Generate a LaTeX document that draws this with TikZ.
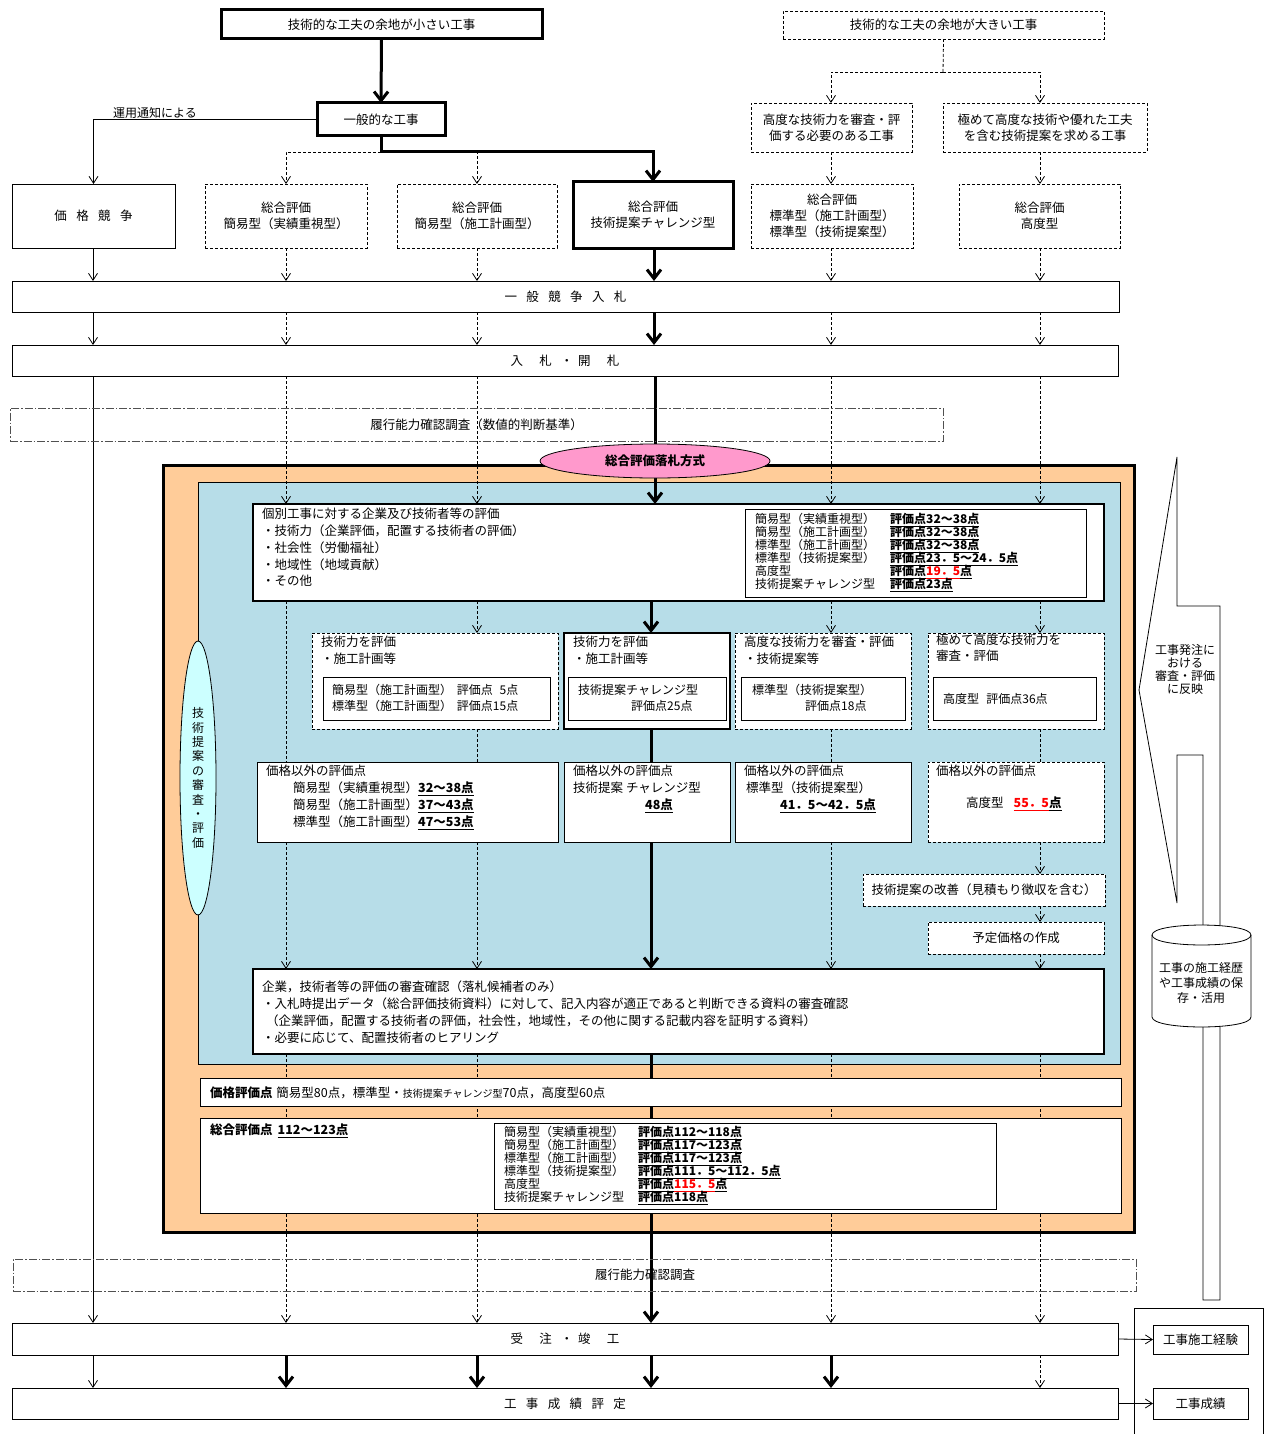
\documentclass[tikz,border=0pt]{standalone}
\usepackage{fontspec}
\setmainfont{Noto Sans CJK JP}
\usetikzlibrary{arrows.meta,calc,shapes.geometric}
\definecolor{peach}{HTML}{FFCC99}
\definecolor{lblue}{HTML}{B7DDE8}
\definecolor{pinkc}{HTML}{FF99CC}
\definecolor{cyanc}{HTML}{CCFFFF}
\definecolor{lgray}{HTML}{505050}
\pgfdeclarelayer{bg}\pgfdeclarelayer{ln}\pgfsetlayers{bg,ln,main}
\newcommand\fs[2]{\fontsize{#1}{#2}\selectfont\lineskiplimit=-50pt\lineskip=0pt}
\newcommand\ulb[1]{\underline{\textbf{#1}\vphantom{点}}}
\newcommand\gp{\hspace{0.75em}}
\newcommand\BX[7][]{\node[#1, minimum width={(#5)-(#3)}, minimum height={(#6)-(#4)}] (#2) at ({((#3)+(#5))/2},{((#4)+(#6))/2}) {#7};}
\begin{document}
\begin{tikzpicture}[x=1pt,y=-1pt,
 every node/.style={font=\fs{12.5}{16}},
 bx/.style={draw, line width=0.8pt, fill=white, inner sep=0pt, outer sep=0pt, align=center},
 dbx/.style={bx, dash pattern=on 3pt off 2pt},
 kbx/.style={bx, line width=3pt},
 mbx/.style={bx, line width=2pt},
 ddbx/.style={draw=lgray, line width=0.8pt, inner sep=0pt, outer sep=0pt, dash pattern=on 8pt off 2pt on 1.5pt off 2pt},
 txt/.style={inner sep=0pt, anchor=north west, align=left},
 ln/.style={line width=0.8pt},
 dln/.style={line width=0.8pt, dash pattern=on 3pt off 2pt},
 kln/.style={line width=3pt},
 tarr/.style={ln, -{Straight Barb[length=7pt,width=9pt]}},
 darr/.style={dln, -{Straight Barb[length=7pt,width=9pt]}},
 karr/.style={kln, -{Straight Barb[length=9pt,width=14pt]}},
]
\useasboundingbox (0,0) rectangle (1265,1434);
\begin{pgfonlayer}{bg}
\fill[white] (0,0) rectangle (1265,1434);
\BX[draw, line width=3pt, fill=peach, inner sep=0pt, outer sep=0pt]{ob}{163}{465}{1134}{1232}{}
\BX[draw, line width=0.8pt, fill=lblue, inner sep=0pt, outer sep=0pt]{bb}{198}{482}{1120}{1064}{}
\end{pgfonlayer}

% columns
\coordinate (X1) at (93,0);
\coordinate (X2) at (286,0);
\coordinate (X3) at (477,0);
\coordinate (X4) at (654,0);
\coordinate (XK) at (651,0);
\coordinate (X5) at (831,0);
\coordinate (X6) at (1040,0);
\coordinate (j1) at (381,152);
\coordinate (j2) at (943,72);

% top
\BX[kbx]{n1}{221}{10}{542}{39}{技術的な工夫の余地が小さい工事}
\BX[dbx]{n2}{783}{11}{1104}{39}{技術的な工夫の余地が大きい工事}
\BX[kbx]{n3}{317}{103}{445}{136}{一般的な工事}
\BX[dbx]{n4}{751}{103}{912}{152}{高度な技術力を審査・評\\価する必要のある工事}
\BX[dbx]{n5}{943}{103}{1147}{152}{極めて高度な技術や優れた工夫\\を含む技術提案を求める工事}
\node[inner sep=0pt, font=\fs{12}{14}] (lab1) at (155,113) {運用通知による};

\BX[bx]{k1}{12}{184}{175}{248}{価\gp 格\gp 競\gp 争}
\BX[dbx]{k2}{205}{184}{367}{248}{総合評価\\簡易型（実績重視型）}
\BX[dbx]{k3}{397}{184}{557}{248}{総合評価\\簡易型（施工計画型）}
\BX[kbx]{k4}{573}{182}{733}{248}{総合評価\\技術提案チャレンジ型}
\BX[dbx]{k5}{751}{184}{913}{248}{総合評価\\標準型（施工計画型）\\標準型（技術提案型）}
\BX[dbx]{k6}{959}{184}{1120}{248}{総合評価\\高度型}

\BX[bx]{b1}{12}{281}{1119}{312}{一\gp 般\gp 競\gp 争\gp 入\gp 札}
\BX[bx]{b2}{12}{345}{1118}{376}{入\hspace{1.3em}札\hspace{0.7em}・\hspace{0.4em}開\hspace{1.3em}札}
\BX[ddbx]{b3}{10}{408}{943}{441}{履行能力確認調査（数値的判断基準）}

% ellipse
\node[ellipse, draw, ln, fill=pinkc, minimum width=230pt, minimum height=34pt, inner sep=0pt, font=\fs{12.5}{15}\bfseries] (e1) at (655,461) {総合評価落札方式};

% individual evaluation
\BX[mbx]{i1}{253}{504}{1104}{601}{}
\node[txt, font=\fs{12.5}{16.75}] (i1t) at (262,508) {個別工事に対する企業及び技術者等の評価\\・技術力（企業評価，配置する技術者の評価）\\・社会性（労働福祉）\\・地域性（地域貢献）\\・その他};
\BX[bx]{i2}{745}{509}{1086}{597}{}
\node[txt, font=\fs{12}{13}] (i2a) at (755,513) {簡易型（実績重視型）\\簡易型（施工計画型）\\標準型（施工計画型）\\標準型（技術提案型）\\高度型\\技術提案チャレンジ型};
\node[txt, font=\fs{12}{13}] (i2b) at (890,513) {\ulb{評価点32～38点}\\\ulb{評価点32～38点}\\\ulb{評価点32～38点}\\\ulb{評価点23．5～24．5点}\\\ulb{評価点}\textcolor{red}{\ulb{19．5}}\ulb{点}\\\ulb{評価点23点}};

% row 2
\BX[dbx]{t1}{312}{633}{558}{729}{}
\node[txt, font=\fs{12.5}{17}] (t1t) at (321,636) {技術力を評価\\・施工計画等};
\BX[bx]{t1i}{323}{677}{550}{720}{}
\node[txt, font=\fs{12}{16}] (t1it) at (332,684) {簡易型（施工計画型）\hspace{0.4em}評価点\phantom{1}5点\\標準型（施工計画型）\hspace{0.4em}評価点15点};

\BX[mbx]{t2}{564}{633}{730}{729}{}
\node[txt, font=\fs{12.5}{17}] (t2t) at (573,636) {技術力を評価\\・施工計画等};
\BX[bx]{t2i}{568}{677}{726}{720}{}
\node[txt, font=\fs{12}{16}] (t2it) at (578,684) {技術提案チャレンジ型\\\hspace*{53pt}評価点25点};

\BX[dbx]{t3}{735}{633}{911}{729}{}
\node[txt, font=\fs{12.5}{17}] (t3t) at (744,636) {高度な技術力を審査・評価\\・技術提案等};
\BX[bx]{t3i}{741}{677}{905}{720}{}
\node[txt, font=\fs{12}{16}] (t3it) at (752,684) {標準型（技術提案型）\\\hspace*{53pt}評価点18点};

\BX[dbx]{t4}{928}{633}{1104}{729}{}
\node[txt, font=\fs{12.5}{16}] (t4t) at (936,634) {極めて高度な技術力を\\審査・評価};
\BX[bx]{t4i}{933}{677}{1096}{720}{}
\node[inner sep=0pt, anchor=west, font=\fs{12}{16}] (t4it) at (943,699) {高度型\hspace{0.6em}評価点36点};

% row 3
\BX[bx]{p1}{257}{762}{558}{842}{}
\node[txt, font=\fs{12.5}{17}] (p1t) at (266,765) {価格以外の評価点\\\hspace*{27pt}簡易型（実績重視型）\ulb{32～38点}\\\hspace*{27pt}簡易型（施工計画型）\ulb{37～43点}\\\hspace*{27pt}標準型（施工計画型）\ulb{47～53点}};
\BX[bx]{p2}{564}{762}{730}{842}{}
\node[txt, font=\fs{12.5}{17}] (p2t) at (573,765) {価格以外の評価点\\技術提案 チャレンジ型\\\hspace*{72pt}\ulb{48点}};
\BX[bx]{p3}{735}{762}{911}{842}{}
\node[txt, font=\fs{12.5}{17}] (p3t) at (744,765) {価格以外の評価点\\\hspace*{2pt}標準型（技術提案型）\\\hspace*{36pt}\ulb{41．5～42．5点}};
\BX[dbx]{p4}{928}{762}{1104}{842}{}
\node[txt, font=\fs{12.5}{17}] (p4t) at (936,765) {価格以外の評価点};
\node[inner sep=0pt, anchor=west] (p4v) at (966,804) {高度型\hspace{0.8em}\textcolor{red}{\ulb{55．5}}\ulb{点}};

\BX[dbx]{q1}{863}{874}{1105}{906}{技術提案の改善（見積もり徴収を含む）}
\BX[dbx]{q2}{928}{922}{1104}{954}{予定価格の作成}

\BX[mbx]{r1}{253}{969}{1104}{1054}{}
\node[txt, font=\fs{12.5}{17}] (r1t) at (262,981) {企業，技術者等の評価の審査確認（落札候補者のみ）\\・入札時提出データ（総合評価技術資料）に対して、記入内容が適正であると判断できる資料の審査確認\\\hspace*{4pt}（企業評価，配置する技術者の評価，社会性，地域性，その他に関する記載内容を証明する資料）\\・必要に応じて、配置技術者のヒアリング};

\node[ellipse, draw, ln, fill=cyanc, minimum width=36pt, minimum height=274pt, inner sep=0pt, align=center, font=\fs{12}{14.4}] (v1) at (198,778) {技\\術\\提\\案\\の\\審\\査\\・\\評\\価};

% price / total
\BX[bx]{s1}{200}{1078}{1121}{1106}{}
\node[inner sep=0pt, anchor=west] (s1t) at (210,1093) {\textbf{価格評価点}\hspace{0.3em}簡易型80点，標準型・{\fs{10}{12}技術提案チャレンジ型}70点，高度型60点};
\BX[bx]{s2}{200}{1118}{1121}{1213}{}
\node[txt] (s2t) at (210,1124) {\textbf{総合評価点}\hspace{0.4em}\ulb{112～123点}};
\BX[bx]{s2i}{494}{1123}{996}{1209}{}
\node[txt, font=\fs{12}{13}] (s2a) at (504,1126) {簡易型（実績重視型）\\簡易型（施工計画型）\\標準型（施工計画型）\\標準型（技術提案型）\\高度型\\技術提案チャレンジ型};
\node[txt, font=\fs{12}{13}] (s2b) at (638,1126) {\ulb{評価点112～118点}\\\ulb{評価点117～123点}\\\ulb{評価点117～123点}\\\ulb{評価点111．5～112．5点}\\\ulb{評価点}\textcolor{red}{\ulb{115．5}}\ulb{点}\\\ulb{評価点118点}};

% bottom
\BX[ddbx]{b4}{13}{1259}{1136}{1291}{}
\node[inner sep=0pt] (b4t) at (645,1275) {履行能力確認調査};
\BX[bx]{u1}{12}{1323}{1118}{1355}{受\hspace{1.3em}注\hspace{0.7em}・\hspace{0.4em}竣\hspace{1.3em}工}
\BX[bx]{w1}{12}{1388}{1118}{1419}{工\gp 事\gp 成\gp 績\gp 評\gp 定}
\BX[bx]{g1}{1153}{1325}{1248}{1354}{工事施工経験}
\BX[bx]{g2}{1153}{1388}{1248}{1419}{工事成績}

% right feedback shape
\draw[ln] (1177,457) -- (1139,690) -- (1177,903) -- (1177,755) -- (1203,755) -- (1203,1300) -- (1220,1300) -- (1220,606) -- (1177,606) -- cycle;
\node[align=center, inner sep=0pt, font=\fs{12}{13}] (fbt) at (1185,669) {工事発注に\\おける\\審査・評価\\に反映};
\draw[ln, fill=white] (1152,935) -- (1152,1017) .. controls (1152,1030.3) and (1251,1030.3) .. (1251,1017) -- (1251,935) .. controls (1251,921.7) and (1152,921.7) .. (1152,935) -- cycle;
\draw[ln] (1152,935) .. controls (1152,948.3) and (1251,948.3) .. (1251,935);
\node[align=center, inner sep=0pt, font=\fs{12}{15}] (cyl) at (1201,983) {工事の施工経歴\\や工事成績の保\\存・活用};
\draw[ln] (1134,1434) -- (1134,1308) -- (1263,1308) -- (1263,1434);

% connectors
\begin{pgfonlayer}{ln}
\draw[karr] (n1.south) -- (n3.north);
\draw[tarr] (n3.west) -| (k1.north);
\draw[karr] (n3.south) -- (j1) -| (k4.north);
\draw[darr] (j1) -| (k2.north);
\draw[darr] (j1) -| (k3.north);
\draw[dln] (n2.south) -- (j2);
\draw[darr] (j2) -| (X5 |- n4.north);
\draw[darr] (j2) -| (X6 |- n5.north);
\draw[darr] (X5 |- n4.south) -- (X5 |- k5.north);
\draw[darr] (X6 |- n5.south) -- (X6 |- k6.north);
\foreach \c/\s in {X1/tarr, X2/darr, X3/darr, X4/karr, X5/darr, X6/darr} {
  \draw[\s] (\c |- k1.south) -- (\c |- b1.north);
  \draw[\s] (\c |- b1.south) -- (\c |- b2.north);
}
\draw[tarr] (X1 |- b2.south) -- (X1 |- u1.north);
\foreach \c in {X2,X3,X5,X6} {\draw[darr] (\c |- b2.south) -- (\c |- i1.north);}
\draw[kln] (e1.north |- b2.south) -- (e1.north);
\draw[karr] (e1.south) -- (e1.south |- i1.north);
\draw[karr] (XK |- i1.south) -- (XK |- t2.north);
\draw[darr] (X3 |- i1.south) -- (X3 |- t1.north);
\draw[darr] (X5 |- i1.south) -- (X5 |- t3.north);
\draw[darr] (X6 |- i1.south) -- (X6 |- t4.north);
\draw[dln] (X2 |- i1.south) -- (X2 |- p1.north);
\draw[dln] (X3 |- t1.south) -- (X3 |- p1.north);
\draw[kln] (XK |- t2.south) -- (XK |- p2.north);
\draw[dln] (X5 |- t3.south) -- (X5 |- p3.north);
\draw[dln] (X6 |- t4.south) -- (X6 |- p4.north);
\draw[darr] (X2 |- p1.south) -- (X2 |- r1.north);
\draw[darr] (X3 |- p1.south) -- (X3 |- r1.north);
\draw[karr] (XK |- p2.south) -- (XK |- r1.north);
\draw[darr] (X5 |- p3.south) -- (X5 |- r1.north);
\draw[darr] (X6 |- p4.south) -- (X6 |- q1.north);
\draw[darr] (X6 |- q1.south) -- (X6 |- q2.north);
\draw[darr] (X6 |- q2.south) -- (X6 |- r1.north);
\foreach \c in {X2,X3,X5,X6} {\draw[darr] (\c |- r1.south) -- (\c |- u1.north);}
\draw[karr] (XK |- r1.south) -- (XK |- u1.north);
\draw[tarr] (X1 |- u1.south) -- (X1 |- w1.north);
\foreach \c in {X2,X3,XK,X5} {\draw[karr] (\c |- u1.south) -- (\c |- w1.north);}
\draw[darr] (X6 |- u1.south) -- (X6 |- w1.north);
\draw[tarr] (u1.east) -- (g1.west);
\draw[tarr] (w1.east) -- (g2.west);
\end{pgfonlayer}
\end{tikzpicture}
\end{document}
